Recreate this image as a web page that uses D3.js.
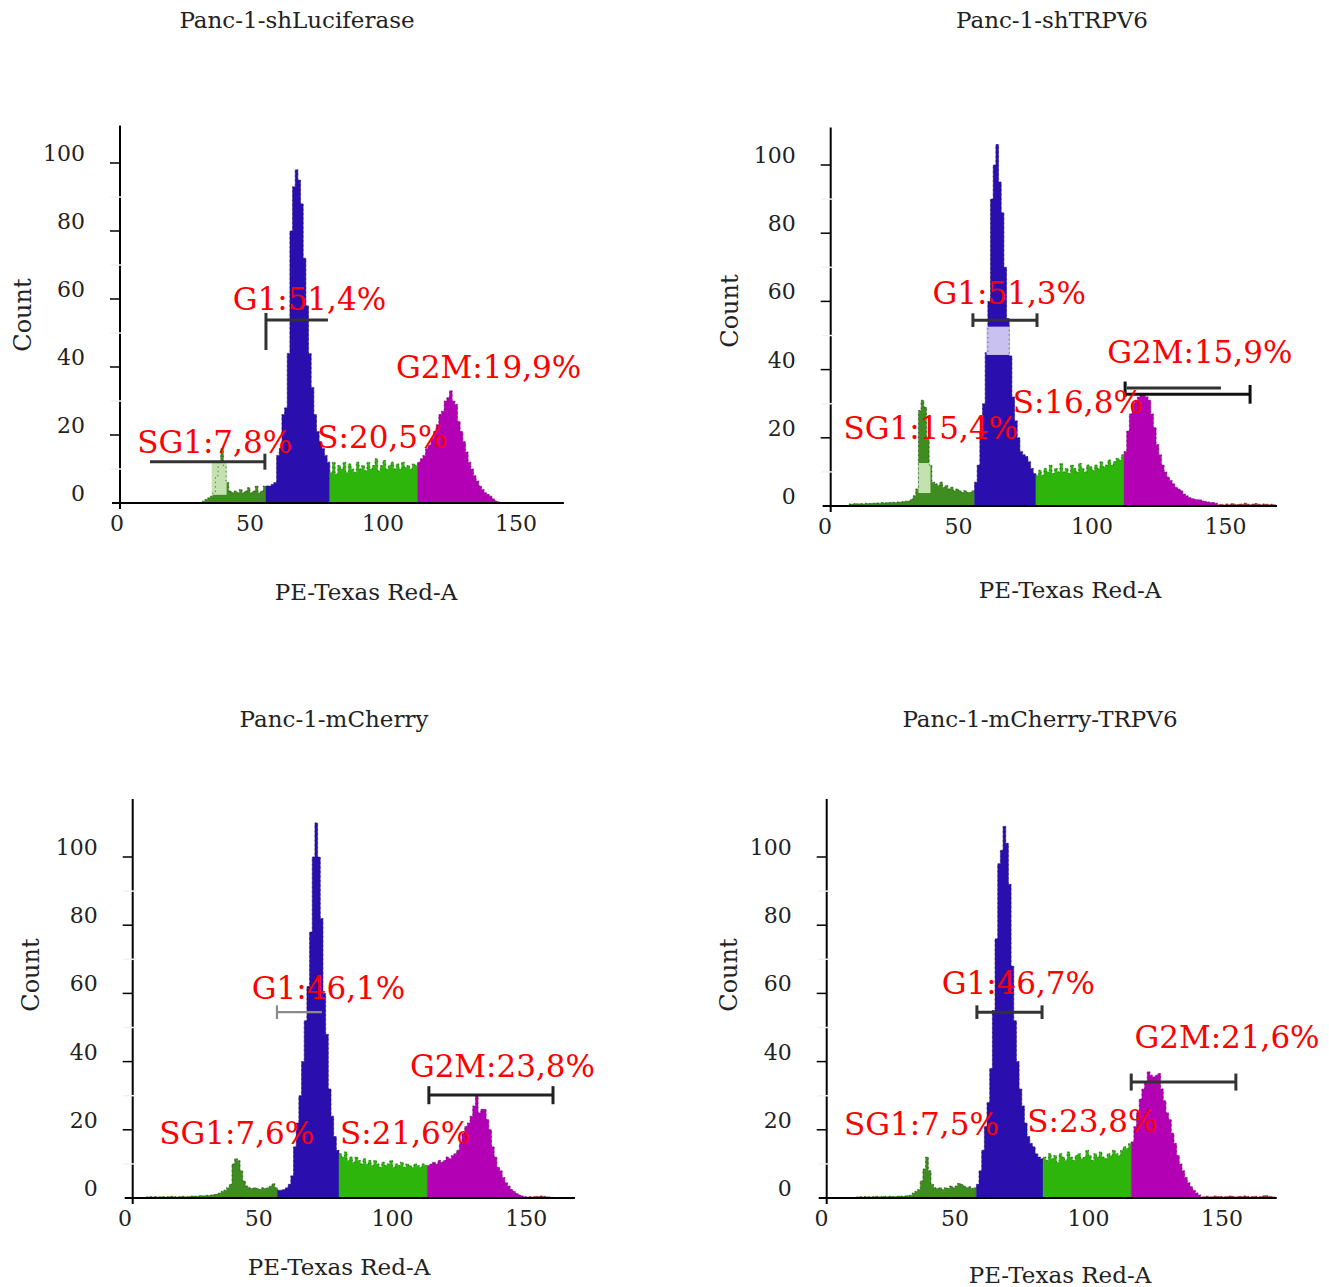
<!DOCTYPE html>
<html>
<head>
<meta charset="utf-8">
<script src="https://cdn.jsdelivr.net/npm/d3@7"></script>
<style>
  html, body { margin: 0; padding: 0; background: #ffffff; }
  svg { display: block; }
  text { font-family: "DejaVu Serif", "Liberation Serif", serif; }
</style>
</head>
<body>
<svg id="chart" width="1329" height="1287"></svg>
<script>
// ---------------- DATA ----------------
const panelTitles = ["Panc-1-shLuciferase", "Panc-1-shTRPV6", "Panc-1-mCherry", "Panc-1-mCherry-TRPV6"];
const xAxisTitle = "PE-Texas Red-A";
const yAxisTitle = "Count";
const xTickValues = [0, 50, 100, 150];
const yTickValues = [0, 20, 40, 60, 80, 100];
const yMinorTicks = [10, 30, 50, 70, 90];
const phaseNames = ["SG1", "G1", "S", "G2M"];

// Panel 1: Panc-1-shLuciferase (histogram bins of width 1 starting at firstBin)
const p1FirstBin = 32;
const p1Counts = [
  0.5,1,1.5,2,3,8,12,16,11,6,3.5,3,3.5,3,4,3,3.5,4.5,3,3.5,5,3,3.5,5,
  5,5,5.5,6,14,16,26,28,44,80,93,98,95,88,72,58,44,34,26,21,18,16,14,12,
  9,12,8.5,11,10,12,9,11.5,10,9,12,10,11,9.5,12,10,11,13,9.5,11,12.5,10,11,12,10,11.5,10,12,10.5,11,10,11.5,11,
  12,13,14,16,17,19,21,23,26,27,30,31,33,30,29,24,21,18,15,12,10,8,6.5,5,4,3,2.5,2,1.2,0.6,0.3
];
const p1PhaseStarts = [56, 80, 113, 144]; // G1 start, S start, G2M start, G2M end
const p1Percents = ["7,8%", "51,4%", "20,5%", "19,9%"];

// Panel 2: Panc-1-shTRPV6
const p2FirstBin = 9;
const p2Counts = [
  0.6,0.6,0.7,0.6,0.7,0.6,0.8,0.7,0.8,0.8,0.9,0.8,1,0.9,1,1,1.1,1,1.2,1.2,1.3,1.4,
  1.5,2,3,5,28,31,29,20,12,7,6.5,6,7,5.5,6,5,5.5,4.5,5,4.5,4,4.5,4,4,4.5,
  7,12,22,30,45,60,90,100,106,95,86,70,55,44,32,25,20,16,15,14.5,13,11,9.5,
  9,10.5,9,11,10,12,9.5,11,10,12.5,10,11,9.5,12,11,10,12.5,11,10,12,11.5,10.5,12,11,13,11.5,12,13.5,12,13,14,13.5,15,
  16,22,27,30,31,32,33,33,32,31,27,23,18,15,12,10,8.5,7.5,6.5,5.5,5,4.5,3.5,3,2.5,2.2,2,1.8,1.8,1.5,1.3,1.2,1,1,0.8,
  0.4,0.5,0.3,0.6,0.4,0.7,0.5,0.4,0.6,0.5,0.8,0.5,0.4,0.6,0.7,0.5,0.4,0.6,0.5,0.4,0.5,0.3
];
const p2PhaseStarts = [56, 79, 112, 147];
const p2Percents = ["15,4%", "51,3%", "16,8%", "15,9%"];

// Panel 3: Panc-1-mCherry
const p3FirstBin = 8;
const p3Counts = [
  0.3,0.4,0.3,0.4,0.3,0.4,0.4,0.3,0.4,0.5,0.4,0.3,0.4,0.5,0.4,0.4,0.5,0.6,0.5,0.6,0.7,0.6,0.8,0.7,0.9,1,1.2,
  1.5,2,2.3,3,4,10,11.5,11,8,5,3.5,3,2.8,3,2.8,2.5,3,2.8,3,3.5,4.2,3,
  2.3,2.3,2.5,3,4,6.5,15,22,30,40,52,62,78,100,110,100,82,60,48,32,24,18,14,
  13,12,13.5,11,12,10.5,12,11,10,11.5,10,11,9.5,11,10,9,10.5,9.5,10,11,9,10,9.5,10.5,9,10,9.5,9,10,9.5,9,10,9.5,
  9.5,10,10.5,10,11,10.5,11,12,11.5,12.5,13,14,16,19,21,22,24,27,30,25,26,26,23,20,15,12,9,8,6,4.5,3.5,2.5,1.9,1.3,0.9,0.6,0.4,
  0.3,0.4,0.3,0.5,0.4,0.6,0.5,0.4,0.3,0.2
];
const p3PhaseStarts = [57, 80, 113, 150];
const p3Percents = ["7,6%", "46,1%", "21,6%", "23,8%"];

// Panel 4: Panc-1-mCherry-TRPV6
const p4FirstBin = 13;
const p4Counts = [
  0.3,0.4,0.3,0.4,0.4,0.3,0.4,0.5,0.4,0.4,0.5,0.4,0.5,0.5,0.4,0.5,0.6,0.5,0.6,0.7,0.8,
  1.5,2,2.5,5,8.5,12,8,4,3,2.8,3,2.5,3,2.8,3.5,3,3.5,4.3,4,3.5,3,3.3,2.8,3,
  4,8,14,21,28,38,55,76,98,102,109,104,92,68,52,40,32,27,22,18,16,15,13,12,11.5,
  12,11,13,11.5,12.5,10.5,13,12,11,13.5,12,11,12.5,13,11.5,12,14,12.5,11,13,12,13.5,12,11.5,13,12.5,14,13,12.5,14,15,14.5,16,
  16.5,21,25,29,32,34,37,36,35.5,36,36.5,32,28.5,25,23,19,16,12.5,10,8,6,4.5,3.3,2.3,1.5,0.9,
  0.3,0.4,0.5,0.3,0.4,0.6,0.4,0.5,0.3,0.4,0.5,0.6,0.4,0.3,0.5,0.4,0.6,0.5,0.3,0.4,0.5,0.3,0.4,0.6,0.7,0.5,0.4,0.3
];
const p4PhaseStarts = [58, 83, 116, 142];
const p4Percents = ["7,5%", "46,7%", "23,8%", "21,6%"];

// ---------------- STYLE / LAYOUT ----------------
const phaseColors = ["#3f8c20", "#2b0fae", "#2db50c", "#b400b4", "#9a3a3a"];
const paleGreen = "#c3e2b0";
const paleLavender = "#c9c2f0";

const layout = [
  { x0: 117, x150: 516, y0: 503, y100: 163, axisX: 120, yTop: 111, xEnd: 168,
    title: [297, 28], ylab: [31, 315], xlab: [366, 600],
    labels: [[7.6, 14.6], [43.5, 56.8], [75.3, 16.1], [104.9, 36.8]],
    gates: [ {a: 12.4, b: 55.6, c: 12.1, caps: [null, [9.8, 14.5]], color: "#333", w: 3},
             {a: 56, b: 79.3, c: 53.8, caps: [[45, 55.9], null], color: "#333", w: 3} ],
    pale: [ {a: 35.6, b: 41.2, c0: 2.4, c1: 12.1, color: paleGreen} ] },
  { x0: 825, x150: 1225.5, y0: 506, y100: 165, axisX: 830.7, yTop: 111, xEnd: 169.3,
    title: [1052, 28], ylab: [738, 311], xlab: [1070, 598],
    labels: [[6.9, 19.6], [40.3, 59.2], [70.3, 27.2], [105.7, 41.8]],
    gates: [ {a: 55.4, b: 79.4, c: 54.5, caps: [[52.5, 56.5], [52.5, 56.5]], color: "#333", w: 3},
             {a: 112.4, b: 159.2, c: 32.8, caps: [[32, 36.5], [30, 35.5]], color: "#111", w: 3},
             {a: 113, b: 148.3, c: 34.6, caps: [null, null], color: "#333", w: 3} ],
    pale: [ {a: 35, b: 39.5, c0: 3.8, c1: 12.6, color: paleGreen},
            {a: 60.5, b: 69.3, c0: 44.3, c1: 52.6, color: paleLavender} ] },
  { x0: 125, x150: 526.25, y0: 1198, y100: 857, axisX: 132.7, yTop: 117, xEnd: 168.2,
    title: [334, 727], ylab: [39, 975], xlab: [339, 1275],
    labels: [[12.8, 15.7], [47.4, 58.3], [80.4, 15.7], [106.5, 35.6]],
    gates: [ {a: 56.8, b: 73.6, c: 54.5, caps: [[52.5, 56.5], null], color: "#8a8a8a", w: 2.2},
             {a: 113.6, b: 160, c: 30.2, caps: [[27.5, 32.8], [27.5, 32.8]], color: "#222", w: 3} ],
    pale: [] },
  { x0: 821.5, x150: 1222, y0: 1198, y100: 857, axisX: 826.7, yTop: 117, xEnd: 170.5,
    title: [1040, 727], ylab: [737, 975], xlab: [1060, 1283],
    labels: [[8.4, 18.5], [45, 59.7], [77.1, 19.4], [117.2, 43.9]],
    gates: [ {a: 58.2, b: 82.6, c: 54.5, caps: [[52.5, 56.5], [52.5, 56.5]], color: "#333", w: 3},
             {a: 116, b: 155.2, c: 34, caps: [[31.5, 36.5], [31.5, 36.5]], color: "#333", w: 3} ],
    pale: [] }
];

const panels = [
  { first: p1FirstBin, counts: p1Counts, starts: p1PhaseStarts, pct: p1Percents },
  { first: p2FirstBin, counts: p2Counts, starts: p2PhaseStarts, pct: p2Percents },
  { first: p3FirstBin, counts: p3Counts, starts: p3PhaseStarts, pct: p3Percents },
  { first: p4FirstBin, counts: p4Counts, starts: p4PhaseStarts, pct: p4Percents }
];

// ---------------- DRAW ----------------
const svg = d3.select("#chart");

panels.forEach((p, i) => {
  const L = layout[i];
  const x = d3.scaleLinear().domain([0, 150]).range([L.x0, L.x150]);
  const y = d3.scaleLinear().domain([0, 100]).range([L.y0, L.y100]);
  const g = svg.append("g");

  const bins = p.counts.map((c, k) => ({ v: p.first + k, c: c }));
  const phaseOf = v => {
    if (v < p.starts[0]) return 0;
    if (v < p.starts[1]) return 1;
    if (v < p.starts[2]) return 2;
    if (v < p.starts[3]) return 3;
    return 4;
  };

  // histogram: one step-area per phase
  const area = d3.area().x(d => x(d[0])).y0(y(0)).y1(d => y(d[1])).curve(d3.curveStepAfter);
  const groups = d3.groups(bins, d => phaseOf(d.v));
  groups.forEach(([ph, arr]) => {
    const pts = arr.map(d => [d.v, d.c]);
    const last = arr[arr.length - 1];
    pts.push([last.v + 1, last.c]);
    g.append("path").attr("d", area(pts))
      .attr("fill", phaseColors[ph])
      .attr("stroke", phaseColors[ph]).attr("stroke-width", 0.4);
  });

  // pale overlay boxes
  g.append("g").selectAll("rect").data(L.pale).join("rect")
    .attr("x", d => x(d.a)).attr("width", d => x(d.b) - x(d.a))
    .attr("y", d => y(d.c1)).attr("height", d => y(d.c0) - y(d.c1))
    .attr("fill", d => d.color);

  // dark speckled outline
  const pts = bins.map(d => [d.v, d.c]);
  pts.push([p.first + p.counts.length, p.counts[p.counts.length - 1]]);
  g.append("path")
    .attr("d", d3.line().x(d => x(d[0])).y(d => y(d[1])).curve(d3.curveStepAfter)(pts))
    .attr("fill", "none").attr("stroke", "#111").attr("stroke-width", 1)
    .attr("stroke-opacity", 0.5).attr("stroke-dasharray", "1.5,3");

  // axes
  g.append("line").attr("x1", L.axisX).attr("x2", L.axisX)
    .attr("y1", y(L.yTop)).attr("y2", y(0) + 6)
    .attr("stroke", "#000").attr("stroke-width", 2);
  g.append("line").attr("x1", L.axisX - 8).attr("x2", x(L.xEnd))
    .attr("y1", y(0)).attr("y2", y(0))
    .attr("stroke", "#000").attr("stroke-width", 2);

  // y ticks
  g.append("g").selectAll("line").data(yTickValues.filter(t => t > 0)).join("line")
    .attr("x1", L.axisX - 10).attr("x2", L.axisX)
    .attr("y1", d => y(d)).attr("y2", d => y(d))
    .attr("stroke", "#000").attr("stroke-width", 1.5);
  g.append("g").selectAll("line").data(yMinorTicks).join("line")
    .attr("x1", L.axisX - 9).attr("x2", L.axisX + 3)
    .attr("y1", d => y(d)).attr("y2", d => y(d))
    .attr("stroke", "#f0f0f0").attr("stroke-width", 1.5);
  g.append("g").selectAll("text").data(yTickValues).join("text")
    .attr("x", L.axisX - 35).attr("y", d => y(d) - 2)
    .attr("text-anchor", "end").attr("font-size", 22).attr("fill", "#222")
    .text(d => d);

  // x tick labels
  g.append("g").selectAll("text").data(xTickValues).join("text")
    .attr("x", d => x(d)).attr("y", y(0) + 28)
    .attr("text-anchor", "middle").attr("font-size", 22).attr("fill", "#222")
    .text(d => d);

  // titles
  g.append("text").attr("x", L.title[0]).attr("y", L.title[1])
    .attr("text-anchor", "middle").attr("font-size", 23).attr("fill", "#222")
    .text(panelTitles[i]);
  g.append("text").attr("transform", `translate(${L.ylab[0]},${L.ylab[1]}) rotate(-90)`)
    .attr("text-anchor", "middle").attr("font-size", 24).attr("fill", "#222")
    .text(yAxisTitle);
  g.append("text").attr("x", L.xlab[0]).attr("y", L.xlab[1])
    .attr("text-anchor", "middle").attr("font-size", 23).attr("fill", "#222")
    .text(xAxisTitle);

  // gates
  L.gates.forEach(gt => {
    g.append("line").attr("x1", x(gt.a)).attr("x2", x(gt.b))
      .attr("y1", y(gt.c)).attr("y2", y(gt.c))
      .attr("stroke", gt.color).attr("stroke-width", gt.w);
    [gt.a, gt.b].forEach((xv, k) => {
      const cap = gt.caps[k];
      if (!cap) return;
      g.append("line").attr("x1", x(xv)).attr("x2", x(xv))
        .attr("y1", y(cap[0])).attr("y2", y(cap[1]))
        .attr("stroke", gt.color).attr("stroke-width", gt.w);
    });
  });

  // phase labels
  g.append("g").selectAll("text").data(phaseNames).join("text")
    .attr("x", (d, k) => x(L.labels[k][0]))
    .attr("y", (d, k) => y(L.labels[k][1]))
    .attr("font-size", 31).attr("fill", "#ff0000")
    .text((d, k) => d + ":" + p.pct[k]);
});
</script>
</body>
</html>
